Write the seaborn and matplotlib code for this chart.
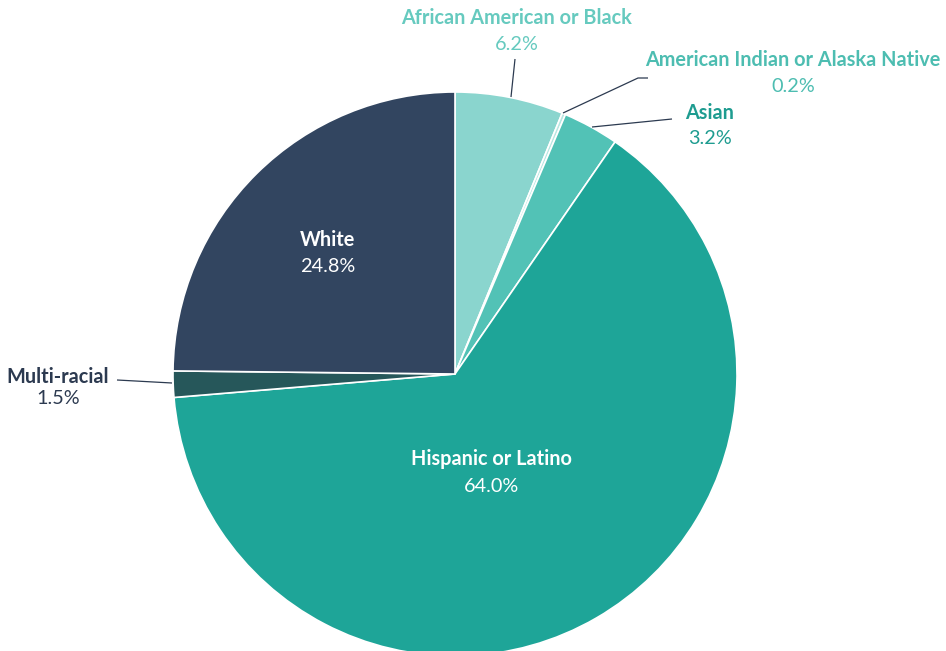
import matplotlib
matplotlib.use("Agg")
import matplotlib.pyplot as plt
import seaborn as sns

# Race / ethnicity breakdown (percent of total)
groups = ["African American or Black", "American Indian or Alaska Native", "Asian",
          "Hispanic or Latino", "Multi-racial", "White"]
shares = [6.2, 0.2, 3.2, 64.0, 1.5, 24.8]
slice_colors = ["#8AD5CE", "#B8E6E1", "#52C2B6", "#1EA598", "#26575A", "#324560"]
label_colors = ["#66CABF", "#4DBDB1", "#1E9C90", "#FFFFFF", "#2C3A50", "#FFFFFF"]

sns.set_theme(style="white")
plt.rcParams["font.family"] = ["Lato", "DejaVu Sans"]

W, H = 946, 651
fig = plt.figure(figsize=(W / 100, H / 100), dpi=100)
ax = fig.add_axes([0, 0, 1, 1])

cx, cy, r = 455, H - 374, 282
wedges, _ = ax.pie(shares, colors=slice_colors, startangle=90, counterclock=False,
                   center=(cx, cy), radius=r, frame=True,
                   wedgeprops=dict(edgecolor="white", linewidth=1.2))
ax.set_xlim(0, W)
ax.set_ylim(0, H)
ax.set_aspect("equal")
ax.axis("off")

# label placement: (x, y of name, y of value, leader line points)
placements = [
    (517, 18, 44, [(511, 97), (515, 59)]),
    (793, 60, 86, [(563, 113), (638, 78), (648, 78)]),
    (710, 113, 138, [(592, 127), (672, 119)]),
    (491, 459, 486, None),
    (58, 377, 399, [(117, 380), (172, 383)]),
    (328, 240, 267, None),
]

fs = 14.3
for name, val, col, (x, y1, y2, line) in zip(groups, shares, label_colors, placements):
    ax.text(x, H - y1, name, ha="center", va="center", fontsize=fs,
            fontweight="bold", color=col)
    ax.text(x, H - y2, f"{val:.1f}%", ha="center", va="center", fontsize=fs, color=col)
    if line:
        xs = [p[0] for p in line]
        ys = [H - p[1] for p in line]
        ax.plot(xs, ys, color="#2C3A50", linewidth=0.9, solid_capstyle="butt")

fig.savefig("out.png", dpi=100, facecolor="white")
